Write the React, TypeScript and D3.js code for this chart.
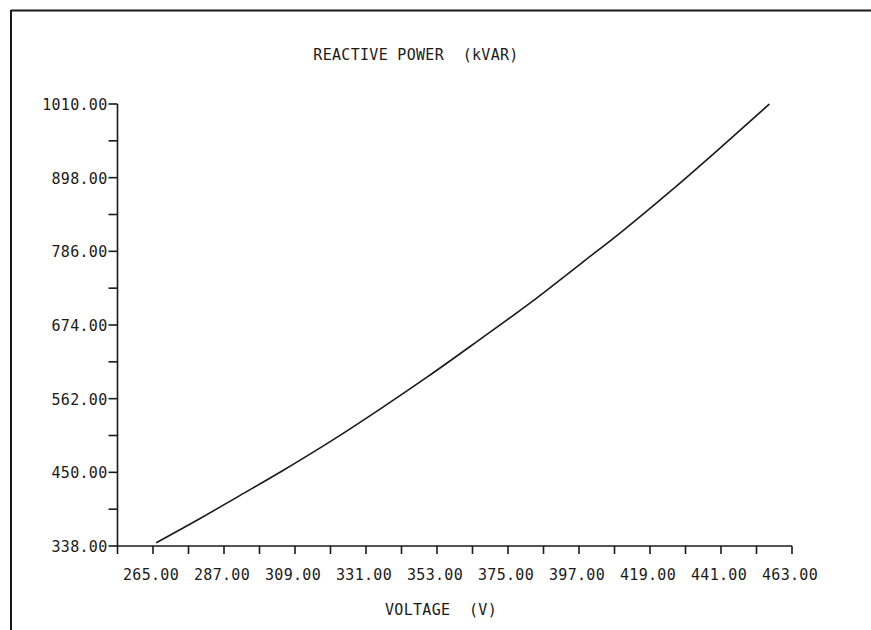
import React from "react";
import * as d3 from "d3";

// Voltage (V) vs reactive power (kVAR)
const voltage = [266, 280, 292, 305, 320, 335, 350, 366, 382, 398, 410, 425, 440, 456];
const reactivePower = [343, 381, 415, 452, 497, 545, 595, 651, 708, 769, 815, 876, 940, 1010];

const xMajorTicks = [265, 287, 309, 331, 353, 375, 397, 419, 441, 463];
const xMinorTicks = [254, 276, 298, 320, 342, 364, 386, 408, 430, 452];
const yMajorTicks = [338, 450, 562, 674, 786, 898, 1010];
const yMinorTicks = [394, 506, 618, 730, 842, 954];

const titleText = "REACTIVE POWER  (kVAR)";
const xTitleText = "VOLTAGE  (V)";

const W = 871;
const H = 630;
const font = "'DejaVu Sans Mono', 'Liberation Mono', monospace";
const ink = "#1a1a1a";

export default function App() {
  const x = d3.scaleLinear().domain([254, 463]).range([117.5, 792]);
  const y = d3.scaleLinear().domain([338, 1010]).range([546, 104]);

  const line = d3
    .line<number>()
    .x((_, i) => x(voltage[i]))
    .y((d) => y(d))
    .curve(d3.curveMonotoneX);

  const textStyle = {
    fontFamily: font,
    fontSize: 15,
    letterSpacing: "0.3px",
    fill: ink,
    whiteSpace: "pre",
  } as React.CSSProperties;

  return (
    <svg
      width={W}
      height={H}
      style={{ position: "absolute", left: 0, top: 0, background: "#fff" }}
    >
      <rect width={W} height={H} fill="#fff" />
      {/* page frame */}
      <line x1={11} y1={10.5} x2={W} y2={10.5} stroke={ink} strokeWidth={2} />
      <line x1={11} y1={10} x2={11} y2={H} stroke={ink} strokeWidth={2} />

      {/* title */}
      <text x={416} y={60} textAnchor="middle" style={textStyle} xmlSpace="preserve">
        {titleText}
      </text>

      {/* y axis */}
      <line x1={x(254)} y1={y(1010)} x2={x(254)} y2={y(338)} stroke={ink} strokeWidth={1.6} />
      {yMajorTicks.map((t) => (
        <g key={"ym" + t}>
          <line x1={x(254) - 9} y1={y(t)} x2={x(254)} y2={y(t)} stroke={ink} strokeWidth={1.6} />
          <text x={x(254) - 10} y={y(t) + 6} textAnchor="end" style={textStyle}>
            {t.toFixed(2)}
          </text>
        </g>
      ))}
      {yMinorTicks.map((t) => (
        <line key={"yn" + t} x1={x(254) - 9} y1={y(t)} x2={x(254)} y2={y(t)} stroke={ink} strokeWidth={1.6} />
      ))}

      {/* x axis */}
      <line x1={x(254)} y1={y(338)} x2={x(463)} y2={y(338)} stroke={ink} strokeWidth={1.6} />
      {xMajorTicks.map((t) => (
        <g key={"xm" + t}>
          <line x1={x(t)} y1={y(338)} x2={x(t)} y2={y(338) + 8} stroke={ink} strokeWidth={1.6} />
          <text x={x(t) - 2} y={580} textAnchor="middle" style={textStyle}>
            {t.toFixed(2)}
          </text>
        </g>
      ))}
      {xMinorTicks.map((t) => (
        <line key={"xn" + t} x1={x(t)} y1={y(338)} x2={x(t)} y2={y(338) + 8} stroke={ink} strokeWidth={1.6} />
      ))}

      <text x={441} y={615} textAnchor="middle" style={textStyle} xmlSpace="preserve">
        {xTitleText}
      </text>

      {/* curve */}
      <path d={line(reactivePower) ?? ""} fill="none" stroke={ink} strokeWidth={1.6} />
    </svg>
  );
}
